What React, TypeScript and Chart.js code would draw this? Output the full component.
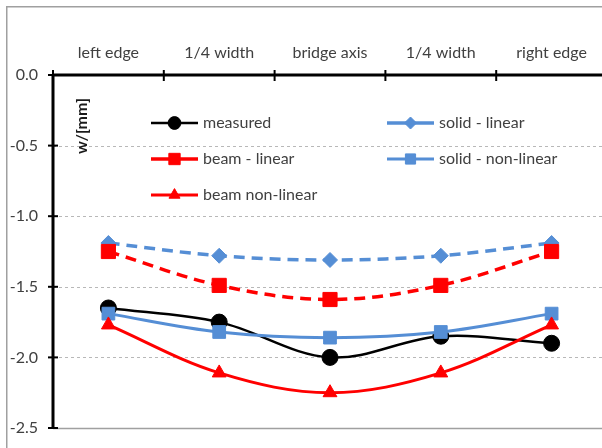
import React, { useEffect, useRef } from 'react';
import { Chart, registerables } from 'chart.js';
import { drawPoint } from 'chart.js/helpers';

Chart.register(...registerables);

const categories = ['left edge', '1/4 width', 'bridge axis', '1/4 width', 'right edge'];
const measured = [-1.65, -1.75, -2.0, -1.85, -1.9];
const solidLinear = [-1.19, -1.28, -1.31, -1.28, -1.19];
const beamLinear = [-1.25, -1.49, -1.59, -1.49, -1.25];
const solidNonLinear = [-1.69, -1.82, -1.86, -1.82, -1.69];
const beamNonLinear = [-1.77, -2.11, -2.25, -2.11, -1.77];
const yTicks = [0, -0.5, -1, -1.5, -2, -2.5];
const yTitle = 'w/[mm]';

const FONT = 'Lato';
const TEXT = '#404040';
const BLUE = '#558ED5';
const RED = '#FF0000';

const legendLayout = [
  { idx: 0, col: 0, row: 0 },
  { idx: 2, col: 0, row: 1 },
  { idx: 4, col: 0, row: 2 },
  { idx: 1, col: 1, row: 0 },
  { idx: 3, col: 1, row: 1 },
];

const excelPlugin = {
  id: 'excelDecor',
  beforeDatasetsDraw(chart: any) {
    const { ctx, chartArea: ca, scales } = chart;
    const x = scales.x;
    const y = scales.y;
    ctx.save();
    ctx.strokeStyle = '#b8b8b8';
    ctx.lineWidth = 1;
    ctx.setLineDash([3, 3]);
    yTicks.forEach((v) => {
      if (v === 0 || v === -2.5) return;
      const py = Math.round(y.getPixelForValue(v)) + 0.5;
      ctx.beginPath();
      ctx.moveTo(ca.left, py);
      ctx.lineTo(ca.right, py);
      ctx.stroke();
    });
    ctx.setLineDash([]);
    const pb = Math.round(y.getPixelForValue(-2.5)) + 0.5;
    ctx.strokeStyle = '#a0a0a0';
    ctx.lineWidth = 1.5;
    ctx.beginPath();
    ctx.moveTo(ca.left, pb);
    ctx.lineTo(ca.right, pb);
    ctx.stroke();
    const y0 = y.getPixelForValue(0);
    ctx.strokeStyle = '#000';
    ctx.lineWidth = 3;
    ctx.beginPath();
    ctx.moveTo(ca.left, y0);
    ctx.lineTo(ca.left, pb);
    ctx.stroke();
    ctx.lineWidth = 2;
    yTicks.forEach((v) => {
      const py = y.getPixelForValue(v);
      ctx.beginPath();
      ctx.moveTo(ca.left - 5, py);
      ctx.lineTo(ca.left + 5, py);
      ctx.stroke();
    });
    ctx.lineWidth = 3;
    ctx.beginPath();
    ctx.moveTo(ca.left, y0);
    ctx.lineTo(ca.right, y0);
    ctx.stroke();
    const w = (x.getPixelForValue(1) - x.getPixelForValue(0));
    const start = x.getPixelForValue(0) - w / 2;
    ctx.lineWidth = 2;
    for (let i = 0; i <= categories.length; i++) {
      const px = start + i * w;
      ctx.beginPath();
      ctx.moveTo(px, y0 - 5);
      ctx.lineTo(px, y0 + 6);
      ctx.stroke();
    }
    ctx.restore();
  },
  afterDraw(chart: any) {
    const { ctx } = chart;
    ctx.save();
    ctx.strokeStyle = '#a0a0a0';
    ctx.lineWidth = 1.5;
    ctx.strokeRect(6.75, 6.75, 1000, 1000);
    ctx.save();
    ctx.translate(82, 126);
    ctx.rotate(-Math.PI / 2);
    ctx.fillStyle = '#1a1a1a';
    ctx.font = `bold 16px ${FONT}`;
    ctx.textAlign = 'center';
    ctx.textBaseline = 'middle';
    ctx.fillText(yTitle, 0, 0);
    ctx.restore();
    const colX = [151, 387];
    const rowY = [123, 159, 195];
    const lineLen = 47;
    legendLayout.forEach(({ idx, col, row }) => {
      const ds = chart.data.datasets[idx];
      const lx = colX[col];
      const ly = rowY[row];
      ctx.strokeStyle = ds.borderColor;
      ctx.fillStyle = ds.backgroundColor;
      ctx.lineWidth = ds.borderWidth;
      ctx.setLineDash([]);
      ctx.beginPath();
      ctx.moveTo(lx, ly);
      ctx.lineTo(lx + lineLen, ly);
      ctx.stroke();
      ctx.lineWidth = 1;
      drawPoint(ctx, { pointStyle: ds.pointStyle, rotation: 0, radius: ds.pointRadius * 0.8, borderWidth: 1 }, lx + lineLen / 2, ly);
      ctx.fillStyle = TEXT;
      ctx.font = `16px ${FONT}`;
      ctx.textAlign = 'left';
      ctx.textBaseline = 'middle';
      ctx.fillText(ds.label, lx + lineLen + 5, ly);
    });
    ctx.restore();
  },
};

export default function App() {
  const ref = useRef<HTMLCanvasElement | null>(null);
  useEffect(() => {
    if (!ref.current) return;
    const mk = (label: string, data: number[], color: string, width: number, style: string, radius: number, dash: number[], order: number) => ({
      label,
      data,
      borderColor: color,
      backgroundColor: color,
      borderWidth: width,
      borderDash: dash,
      pointStyle: style,
      pointRadius: radius,
      pointHoverRadius: radius,
      pointBorderColor: color,
      pointBackgroundColor: color,
      pointBorderWidth: 1,
      tension: 0.35,
      fill: false,
      order,
    });
    const chart = new Chart(ref.current, {
      type: 'line',
      data: {
        labels: categories,
        datasets: [
          mk('measured', measured, '#000000', 2.5, 'circle', 8, [], 5),
          mk('solid - linear', solidLinear, BLUE, 3.5, 'rectRot', 7.5, [11, 7], 4),
          mk('beam - linear', beamLinear, RED, 3.5, 'rect', 10, [11, 7], 3),
          mk('solid - non-linear', solidNonLinear, BLUE, 3, 'rect', 9, [], 2),
          mk('beam non-linear', beamNonLinear, RED, 3, 'triangle', 8, [], 1),
        ],
      },
      options: {
        animation: false,
        responsive: false,
        maintainAspectRatio: false,
        layout: { padding: { left: 0, top: 0, right: 5, bottom: 32 } },
        plugins: { legend: { display: false }, tooltip: { enabled: false } },
        scales: {
          x: {
            type: 'category',
            position: 'top',
            offset: true,
            grid: { display: false, drawTicks: false },
            border: { display: false },
            ticks: { font: { family: FONT, size: 16 }, color: TEXT, padding: 13, maxRotation: 0, autoSkip: false },
            afterFit(s: any) { s.height = 75; },
          },
          y: {
            type: 'linear',
            min: -2.5,
            max: 0,
            afterBuildTicks(s: any) { s.ticks = yTicks.map((v) => ({ value: v })); },
            grid: { display: false, drawTicks: false },
            border: { display: false },
            ticks: { font: { family: FONT, size: 16 }, color: TEXT, padding: 15, callback: (v: any) => Number(v).toFixed(1) },
            afterFit(s: any) { s.width = 53; },
          },
        },
      },
      plugins: [excelPlugin],
    } as any);
    return () => chart.destroy();
  }, []);
  return (
    <div style={{ position: 'absolute', left: 0, top: 0, width: 602, height: 448, overflow: 'hidden', background: '#fff' }}>
      <canvas ref={ref} width={618} height={460} style={{ display: 'block' }} />
    </div>
  );
}
